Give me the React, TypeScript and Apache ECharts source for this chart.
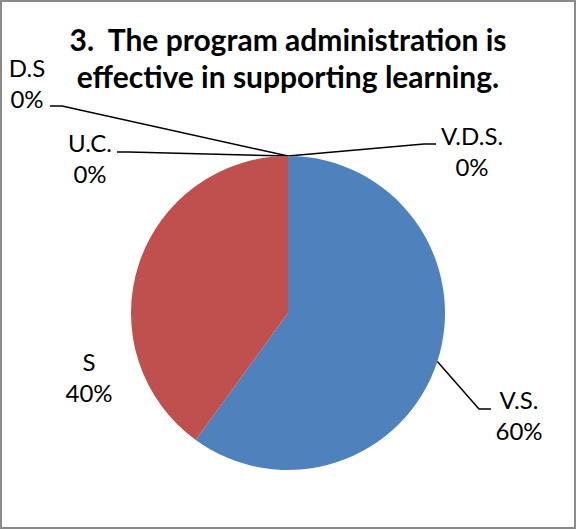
import React, { useEffect, useRef } from "react";
import * as echarts from "echarts";

const categories = ["V.S.", "S", "U.C.", "D.S", "V.D.S."];
const values = [60, 40, 0, 0, 0];
const sliceColors = ["#4F81BD", "#C0504D", "#9BBB59", "#8064A2", "#4BACC6"];
const titleLines = ["3.  The program administration is", "effective in supporting learning."];

export default function App() {
  const ref = useRef<HTMLDivElement>(null);
  useEffect(() => {
    if (!ref.current) return;
    const chart = echarts.init(ref.current, null, { renderer: "svg" });
    // label placement: centre x, leader attach y, spacer heights above / below text, spacer width
    const labelSpots: Record<string, { x: number; y: number; above: number; below: number; w: number }> = {
      "V.S.": { x: 519, y: 409, above: 12, below: 0, w: 56 },
      S: { x: 89, y: 377, above: 0, below: 0, w: 0 },
      "U.C.": { x: 90, y: 152, above: 12, below: 0, w: 54 },
      "D.S": { x: 27, y: 106, above: 0, below: 46, w: 46 },
      "V.D.S.": { x: 472, y: 144, above: 14, below: 0, w: 72 },
    };
    const fmt = (c: string) => {
      const s = labelSpots[c];
      let f = "{b}\n{d}%";
      if (s.above > 0) f = "{top|\u00a0}\n" + f;
      if (s.below > 0) f = f + "\n{bot|\u00a0}";
      return f;
    };
    chart.setOption({
      animation: false,
      backgroundColor: "#ffffff",
      title: {
        text: titleLines.join("\n"),
        left: "center",
        top: 15,
        textStyle: {
          fontFamily: "Lato",
          fontWeight: "bold",
          fontSize: 30,
          lineHeight: 37,
          color: "#000",
        },
      },
      graphic: [
        {
          type: "rect",
          shape: { x: 1, y: 1, width: 574, height: 527 },
          style: { fill: "none", stroke: "#8a8a8a", lineWidth: 2 },
          silent: true,
        },
      ],
      series: [
        {
          type: "pie",
          center: [288, 313],
          radius: 157,
          startAngle: 90,
          clockwise: true,
          avoidLabelOverlap: false,
          minShowLabelAngle: 0,
          itemStyle: { borderWidth: 0 },
          label: {
            show: true,
            fontFamily: "Lato",
            fontSize: 24,
            lineHeight: 31,
            color: "#000",
            align: "center",
          },
          labelLine: {
            show: true,
            length: 20,
            length2: 12,
            lineStyle: { color: "#000", width: 1.5 },
          },
          labelLayout: (p: any) => {
            const s = labelSpots[categories[p.dataIndex]];
            return { x: s.x, y: s.y, align: "center", verticalAlign: "middle" };
          },
          data: categories.map((c, i) => ({
            name: c,
            value: values[i],
            itemStyle: { color: sliceColors[i] },
            label: {
              formatter: fmt(c),
              rich: {
                top: {
                  fontSize: 1,
                  lineHeight: labelSpots[c].above || 1,
                  width: labelSpots[c].w || undefined,
                },
                bot: {
                  fontSize: 1,
                  lineHeight: labelSpots[c].below || 1,
                  width: labelSpots[c].w || undefined,
                },
              },
            },
            labelLine: { show: c !== "S" },
          })),
        },
      ],
    });
    return () => chart.dispose();
  }, []);
  return (
    <div
      ref={ref}
      style={{ position: "fixed", left: 0, top: 0, width: 576, height: 529 }}
    />
  );
}
